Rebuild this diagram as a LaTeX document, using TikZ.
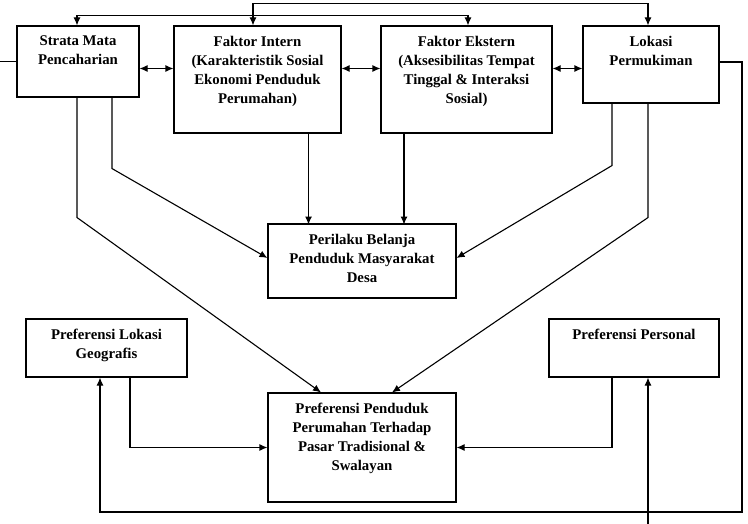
\documentclass[tikz,border=0pt]{standalone}
\usepackage{fontspec}
\setmainfont{Liberation Serif}
\usetikzlibrary{arrows.meta}

\tikzset{
    box/.style={draw, rectangle, line width=1.1pt, inner sep=0pt},
    txt/.style={anchor=north, align=center, inner sep=0pt, yshift=-10pt,
        font=\bfseries\fontsize{14.8}{19}\selectfont},
}

\begin{document}
\begin{tikzpicture}[x=1pt, y=-1pt, >={Latex[length=8pt,width=7pt]}, line width=1.1pt]
    \useasboundingbox (0,0) rectangle (748,524);

    % top row
    \node[box, minimum width=122pt, minimum height=71pt,
        label={[txt]north:{Strata Mata\\Pencaharian}}] (strata) at (78,61.5) {};
    \node[box, minimum width=167pt, minimum height=107pt,
        label={[txt]north:{Faktor Intern\\(Karakteristik Sosial\\Ekonomi Penduduk\\Perumahan)}}] (intern) at (257.5,79.5) {};
    \node[box, minimum width=171pt, minimum height=107pt,
        label={[txt]north:{Faktor Ekstern\\(Aksesibilitas Tempat\\Tinggal \& Interaksi\\Sosial)}}] (ekstern) at (466.5,79.5) {};
    \node[box, minimum width=136pt, minimum height=77pt,
        label={[txt]north:{Lokasi\\Permukiman}}] (lokasi) at (651,64.5) {};

    % middle
    \node[box, minimum width=188pt, minimum height=74pt,
        label={[txt]north:{Perilaku Belanja\\Penduduk Masyarakat\\Desa}}] (perilaku) at (362,261) {};

    % bottom row
    \node[box, minimum width=161pt, minimum height=58pt,
        label={[txt]north:{Preferensi Lokasi\\Geografis}}] (geo) at (106.5,348) {};
    \node[box, minimum width=170pt, minimum height=58pt,
        label={[txt]north:{Preferensi Personal}}] (personal) at (634,348) {};
    \node[box, minimum width=188pt, minimum height=109pt,
        label={[txt]north:{Preferensi Penduduk\\Perumahan Terhadap\\Pasar Tradisional \&\\Swalayan}}] (penduduk) at (362,447.5) {};

    \coordinate (row) at (0,68.5);
    \coordinate (loopR) at (742,512);
    \coordinate (bottomend) at (648,524);

    % links between the top boxes
    \draw[<->] ([xshift=-4.5pt]intern.north) -- ++(0,-22) -| ([xshift=-3pt]lokasi.north);
    \draw[<->] ([xshift=-1pt]strata.north) -- ++(0,-10) -| ([xshift=1.5pt]ekstern.north);
    \draw[<->] (strata.east |- row) -- (intern.west |- row);
    \draw[<->] (intern.east |- row) -- (ekstern.west |- row);
    \draw[<->] (ekstern.east |- row) -- (lokasi.west |- row);

    % outside lines
    \draw (strata.west) -- ++(-17,0);
    \draw[->] ([yshift=2.5pt]lokasi.east) -| (loopR) -| ([xshift=-6.5pt]geo.south);
    \draw[->] (bottomend) -- (bottomend |- personal.south);

    % to perilaku
    \draw[->] ([xshift=34pt]strata.south) -- ++(0,71) -- ([yshift=3pt]perilaku.west);
    \draw[->] ([xshift=51pt]intern.south) -- ++(0,91);
    \draw[->] ([xshift=-62.5pt]ekstern.south) -- ++(0,91);
    \draw[->] ([xshift=-39pt]lokasi.south) -- ++(0,62) -- ([yshift=3pt]perilaku.east);

    % to penduduk
    \draw[->] ([xshift=-1pt]strata.south) -- ++(0,120) -- ([xshift=-41pt]penduduk.north);
    \draw[->] ([xshift=-3pt]lokasi.south) -- ++(0,114) -- ([xshift=30pt]penduduk.north);
    \draw[->] ([xshift=23.5pt]geo.south) |- (penduduk.west);
    \draw[->] ([xshift=-22pt]personal.south) |- (penduduk.east);
\end{tikzpicture}
\end{document}
